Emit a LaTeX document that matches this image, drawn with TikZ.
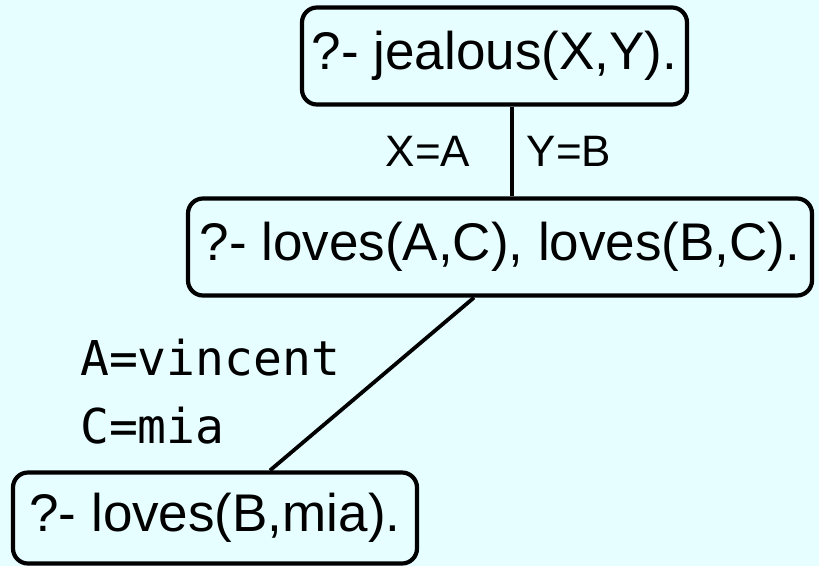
\documentclass[tikz,border=0pt]{standalone}
\usepackage{fontspec}
\setmainfont{Liberation Sans}
\newfontfamily\bindfont{DejaVu Sans Mono}
\usetikzlibrary{
  positioning,
  calc
}
\definecolor{qbg}{HTML}{E6FEFF}

\begin{document}
\begin{tikzpicture}[x=1pt, y=-1pt,
      goal/.style={
        rectangle, rounded corners=15pt,
        draw=black, line width=4.2pt, fill=qbg,
        minimum height=97pt, inner xsep=0pt,
        font=\fontsize{53}{60}\selectfont
      },
      edge/.style={line width=3.8pt, black},
      subst/.style={font=\fontsize{44}{50}\selectfont, inner sep=0pt},
      binding/.style={font=\bindfont\fontsize{48}{54}\selectfont, inner sep=0pt, anchor=base west}
    ]
      \fill[qbg] (0,0) rectangle (819,566);
      \useasboundingbox (0,0) rectangle (819,566);

      \node[goal, minimum width=385pt] (jeal) at (494.5,56) {?- jealous(X,Y).};
      \node[goal, minimum width=624pt] (loves) at (500,247) {?- loves(A,C), loves(B,C).};
      \node[goal, minimum width=404pt, minimum height=91pt] (mia) at (215,518) {?- loves(B,mia).};

      \draw[edge] ([xshift=17.5pt]jeal.south) -- ([xshift=12pt]loves.north)
        node[subst, pos=.5, anchor=east, xshift=-40pt] {X=A}
        node[subst, pos=.5, anchor=west, xshift=13pt] {Y=B};
      \draw[edge] ([xshift=-26pt]loves.south) -- ([xshift=55pt]mia.north);

      \node[binding] (bA) at (80,375) {A=vincent};
      \node[binding] (bC) at (80,443) {C=mia};
    \end{tikzpicture}
\end{document}
